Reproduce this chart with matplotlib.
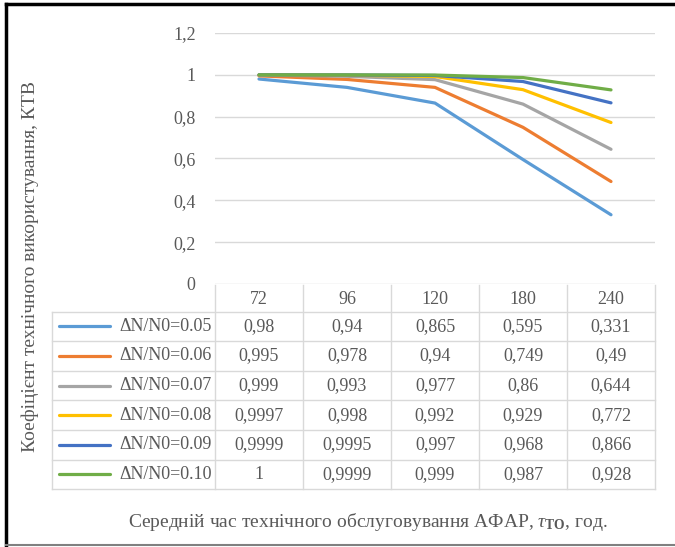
import numpy as np
import matplotlib
matplotlib.use("Agg")
import matplotlib.pyplot as plt

# дані
hours = ["72", "96", "120", "180", "240"]
series_names = ["ΔN/N0=0.05", "ΔN/N0=0.06", "ΔN/N0=0.07",
                "ΔN/N0=0.08", "ΔN/N0=0.09", "ΔN/N0=0.10"]
k_005 = [0.98, 0.94, 0.865, 0.595, 0.331]
k_006 = [0.995, 0.978, 0.94, 0.749, 0.49]
k_007 = [0.999, 0.993, 0.977, 0.86, 0.644]
k_008 = [0.9997, 0.998, 0.992, 0.929, 0.772]
k_009 = [0.9999, 0.9995, 0.997, 0.968, 0.866]
k_010 = [1, 0.9999, 0.999, 0.987, 0.928]
y_ticks = [0, 0.2, 0.4, 0.6, 0.8, 1, 1.2]

series = [k_005, k_006, k_007, k_008, k_009, k_010]
colors = ["#5B9BD5", "#ED7D31", "#A5A5A5", "#FFC000", "#4472C4", "#70AD47"]
txt = "#595959"
grid = "#D9D9D9"
fs = 13

plt.rcParams["font.family"] = ["Liberation Serif", "DejaVu Serif"]
plt.rcParams["mathtext.fontset"] = "custom"
plt.rcParams["mathtext.rm"] = "Liberation Serif"
plt.rcParams["mathtext.bf"] = "Liberation Serif:bold"
plt.rcParams["mathtext.it"] = "Liberation Serif:italic"

W, H = 675, 547
fig = plt.figure(figsize=(W / 100, H / 100), dpi=100)

# пікселі області графіка
x0, x1 = 215, 655
y_top, y_bot = 33, 284
ax = fig.add_axes([x0 / W, 1 - y_bot / H, (x1 - x0) / W, (y_bot - y_top) / H])
x = np.arange(len(hours))
for vals, c in zip(series, colors):
    ax.plot(x, vals, color=c, lw=2.3, solid_capstyle="round", zorder=3)
ax.set_xlim(-0.5, len(hours) - 0.5)
ax.set_ylim(0, 1.2)
ax.set_yticks(y_ticks)
ax.set_yticklabels([f"{v:g}".replace(".", ",") for v in y_ticks])
ax.set_xticks([])
ax.tick_params(axis="y", length=0, pad=14, labelsize=fs, colors=txt)
ax.grid(axis="y", color=grid, lw=1)
for s in ax.spines.values():
    s.set_visible(False)

# таблиця даних (накладена вісь у пікселях)
tab = fig.add_axes([0, 0, 1, 1], facecolor="none")
tab.set_xlim(0, W)
tab.set_ylim(H, 0)
tab.axis("off")

col_w = (x1 - x0) / len(hours)
lab_left = 52
head_top, head_bot = 285, 311.5
row_h = 29.6
n_rows = len(series)
tab_bot = head_bot + n_rows * row_h

# вертикальні лінії
for i in range(len(hours) + 1):
    xv = x0 + i * col_w
    tab.plot([xv, xv], [head_top, tab_bot], color=grid, lw=1)
tab.plot([lab_left, lab_left], [head_bot, tab_bot], color=grid, lw=1)
# горизонтальні лінії
for r in range(n_rows + 1):
    yh = head_bot + r * row_h
    tab.plot([lab_left, x1], [yh, yh], color=grid, lw=1)

for i, h in enumerate(hours):
    tab.text(x0 + (i + 0.5) * col_w, (head_top + head_bot) / 2 + 1, h,
             ha="center", va="center", fontsize=fs, color=txt)

for r, (name, vals, c) in enumerate(zip(series_names, series, colors)):
    yc = head_bot + (r + 0.5) * row_h
    tab.plot([59, 110], [yc, yc], color=c, lw=2.3, solid_capstyle="round")
    tab.text(212, yc, name, ha="right", va="center", fontsize=fs, color=txt)
    for i, v in enumerate(vals):
        tab.text(x0 + (i + 0.5) * col_w, yc, f"{v:g}".replace(".", ","),
                 ha="center", va="center", fontsize=fs, color=txt)

# підписи осей
fig.text(30 / W, 1 - 266 / H, "Коефіцієнт технічного використування, КТВ",
         rotation=90, ha="center", va="center", fontsize=14, color=txt)
fig.text(368 / W, 1 - 522 / H,
         r"Середній час технічного обслуговування АФАР, $\tau_{\mathbf{ТО}}$, год.",
         ha="center", va="center", fontsize=14, color=txt)

# рамка
tab.plot([6, W], [3.5, 3.5], color="black", lw=2.5)
tab.plot([6, 6], [3.5, H - 2], color="black", lw=2.5)
tab.plot([6, W], [H - 2, H - 2], color="#808080", lw=1.5)

fig.savefig("out.png", dpi=100)
